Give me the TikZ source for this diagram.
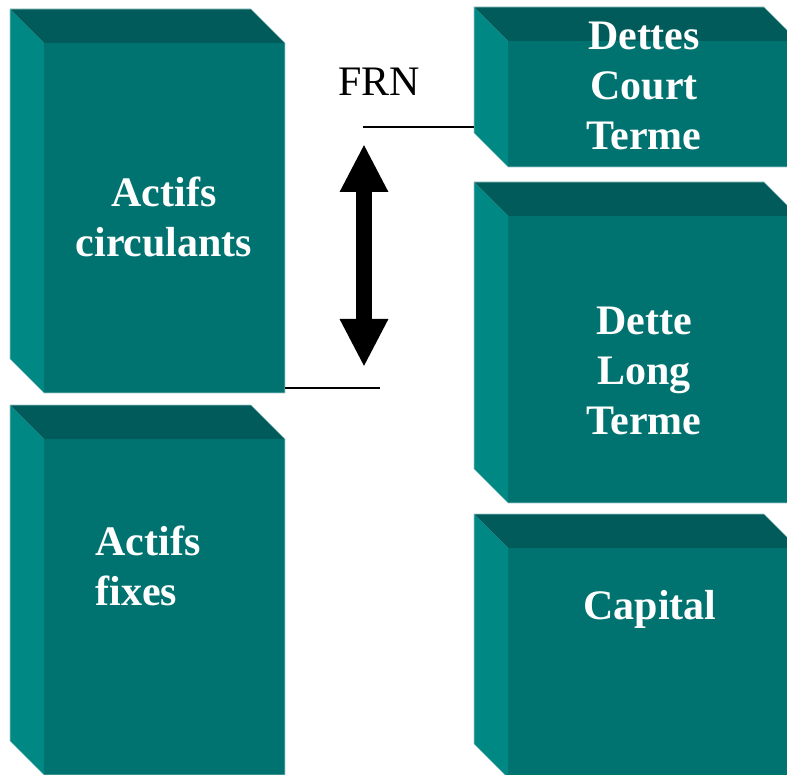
\documentclass[tikz,border=0pt]{standalone}
\usepackage{fontspec}
\setmainfont{Liberation Serif}
\usetikzlibrary{arrows.meta}

\definecolor{topteal}{HTML}{005B5A}
\definecolor{frontteal}{HTML}{007371}
\definecolor{sideteal}{HTML}{008885}
\definecolor{edgeteal}{HTML}{9CCACA}

% bevelled block: x1, y1, x2, y2 (pixel units, y down)
\newcommand{\tealblock}[4]{%
  \fill[sideteal] (#1,#2) -- (#1+34,#2+34) -- (#1+34,#4) -- (#1,#4-34) -- cycle;
  \fill[topteal] (#1,#2) -- (#3-34,#2) -- (#3,#2+34) -- (#1+34,#2+34) -- cycle;
  \fill[frontteal] (#1+34,#2+34) rectangle (#3,#4);
  \draw[edgeteal, line width=0.6pt] (#1,#4-34) -- (#1,#2) -- (#3-34,#2) -- (#3,#2+34) -- (#3,#4) -- (#1+34,#4) -- cycle;
}

\begin{document}
\begin{tikzpicture}[
    x=1pt, y=-1pt,
    blocktext/.style={text=white, font=\fontsize{42}{50}\selectfont\bfseries, align=center},
    tick/.style={line width=2.5pt},
    bigarrow/.style={line width=16pt, {Triangle[length=48pt,width=45pt]}-{Triangle[length=48pt,width=45pt]}}
]
\useasboundingbox (0,0) rectangle (787,775);
\clip (0,0) rectangle (787,775);

\tealblock{10}{9}{285}{393}
\tealblock{10}{405}{285}{775}
\tealblock{474}{7}{798}{167}
\tealblock{474}{182}{798}{503}
\tealblock{474}{514}{798}{778}

\node[blocktext] (circ) at (164,217) {Actifs\\circulants};
\node[blocktext, align=left, anchor=west] (fixes) at (92,566) {Actifs\\fixes};
\node[blocktext] (dct) at (644,86) {Dettes\\Court\\Terme};
\node[blocktext] (dlt) at (644,371) {Dette\\Long\\Terme};
\node[blocktext] (capital) at (650,609) {Capital};

\node[font=\fontsize{42}{50}\selectfont] (frn) at (379,82) {FRN};

\coordinate (hitop) at (363,127);
\coordinate (hiend) at (474,127);
\coordinate (lostart) at (285,388);
\coordinate (loend) at (380,388);
\coordinate (arrtop) at (364,144);
\coordinate (arrbot) at (364,367);

\draw[tick] (hitop) -- (hiend);
\draw[tick] (lostart) -- (loend);
\draw[bigarrow] (arrtop) -- (arrbot);
\end{tikzpicture}
\end{document}
